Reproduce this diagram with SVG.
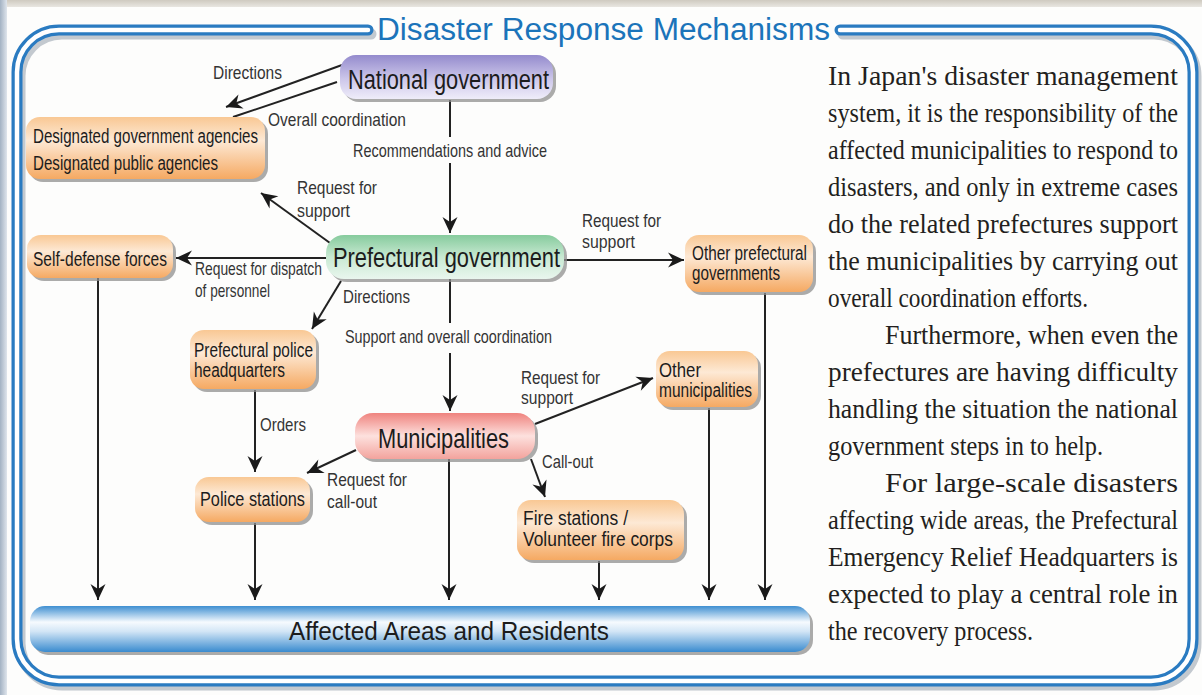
<svg xmlns="http://www.w3.org/2000/svg" width="1202" height="695" viewBox="0 0 1202 695">
  <defs>
    <style>
      .conn { stroke: #222; stroke-width: 2; fill: none; }
      .arrow { marker-end: url(#head); }
      .shadow { fill: #8f8f8f; opacity: 0.75; }
      .big { font-family: "Liberation Sans", Arial, sans-serif; font-size: 21.8px; fill: #1c1c1c; }
      .bar { font-family: "Liberation Sans", Arial, sans-serif; font-size: 24px; fill: #1c1c1c; }
      .mid { font-family: "Liberation Sans", Arial, sans-serif; font-size: 15.5px; fill: #1c1c1c; }
      .lbl { font-family: "Liberation Sans", Arial, sans-serif; font-size: 15px; fill: #343434; }
      .body { font-family: "Liberation Serif", "Times New Roman", serif; font-size: 23.5px; fill: #231f20; }
      .title { font-family: "Liberation Sans", Arial, sans-serif; font-size: 31px; fill: #1b74ba; }
    </style>
    <marker id="head" markerUnits="userSpaceOnUse" markerWidth="18" markerHeight="16" viewBox="-17 -8 18 16" refX="0" refY="0" orient="auto">
      <path d="M0,0 L-16,-7.5 L-11,0 L-16,7.5 Z" fill="#1a1a1a"/>
    </marker>
    <linearGradient id="gOrange" x1="0" y1="0" x2="0" y2="1">
      <stop offset="0" stop-color="#f9c894"/>
      <stop offset="0.38" stop-color="#fde9d5"/>
      <stop offset="1" stop-color="#f5a962"/>
    </linearGradient>
    <linearGradient id="gPurple" x1="0" y1="0" x2="0" y2="1">
      <stop offset="0" stop-color="#948bcd"/>
      <stop offset="0.55" stop-color="#cdc7ea"/>
      <stop offset="1" stop-color="#efedf9"/>
    </linearGradient>
    <linearGradient id="gGreen" x1="0" y1="0" x2="0" y2="1">
      <stop offset="0" stop-color="#86cb9d"/>
      <stop offset="0.5" stop-color="#c8e9d2"/>
      <stop offset="1" stop-color="#e9f6ee"/>
    </linearGradient>
    <linearGradient id="gRed" x1="0" y1="0" x2="0" y2="1">
      <stop offset="0" stop-color="#ef837e"/>
      <stop offset="0.5" stop-color="#fde1de"/>
      <stop offset="1" stop-color="#f3a39d"/>
    </linearGradient>
    <linearGradient id="gBlue" x1="0" y1="0" x2="0" y2="1">
      <stop offset="0" stop-color="#3f8fd1"/>
      <stop offset="0.35" stop-color="#f6fafe"/>
      <stop offset="0.55" stop-color="#d3e6f6"/>
      <stop offset="1" stop-color="#3a8bcf"/>
    </linearGradient>
    <linearGradient id="gEdgeTop" x1="0" y1="0" x2="0" y2="1">
      <stop offset="0" stop-color="#cfcac0"/>
      <stop offset="1" stop-color="#e8e6e1"/>
    </linearGradient>
    <linearGradient id="gEdgeLeft" x1="0" y1="0" x2="1" y2="0">
      <stop offset="0" stop-color="#a3b2c3"/>
      <stop offset="1" stop-color="#dfe5ec"/>
    </linearGradient>
  </defs>

  <!-- page -->
  <rect x="0" y="0" width="1202" height="695" fill="#fdfdfc"/>
  <rect x="0" y="0" width="1202" height="7" fill="url(#gEdgeTop)"/>
  <rect x="0" y="0" width="7" height="695" fill="url(#gEdgeLeft)"/>

  <!-- tube frame, open at the top for the heading -->
  <g id="frame">
    <path d="M368 30 H59 A42 42 0 0 0 17 72 V639 A42 42 0 0 0 59 681 H1151 A42 42 0 0 0 1193 639 V72 A42 42 0 0 0 1151 30 H840" transform="translate(3,4)" fill="none" stroke="#a9b2bc" stroke-width="11" stroke-linecap="round" opacity="0.7"/>
    <path d="M368 30 H59 A42 42 0 0 0 17 72 V639 A42 42 0 0 0 59 681 H1151 A42 42 0 0 0 1193 639 V72 A42 42 0 0 0 1151 30 H840" fill="none" stroke="#2a7bc1" stroke-width="11" stroke-linecap="round"/>
    <path d="M368 30 H59 A42 42 0 0 0 17 72 V639 A42 42 0 0 0 59 681 H1151 A42 42 0 0 0 1193 639 V72 A42 42 0 0 0 1151 30 H840" fill="none" stroke="#ffffff" stroke-width="4.5" stroke-linecap="round"/>
  </g>
  <text class="title" x="377" y="40" textLength="453" lengthAdjust="spacingAndGlyphs">Disaster Response Mechanisms</text>

  <!-- connectors -->
  <g id="connectors">
    <line class="conn arrow" x1="342" y1="65" x2="226" y2="107"/>
    <line class="conn" x1="337" y1="82" x2="233" y2="117"/>
    <line class="conn" x1="450" y1="100" x2="450" y2="137"/>
    <line class="conn arrow" x1="450" y1="163" x2="450" y2="233"/>
    <line class="conn arrow" x1="330" y1="243" x2="261" y2="193"/>
    <line class="conn arrow" x1="326" y1="258" x2="176" y2="258"/>
    <line class="conn arrow" x1="341" y1="281" x2="312" y2="329"/>
    <line class="conn arrow" x1="564" y1="260" x2="684" y2="260"/>
    <line class="conn" x1="450" y1="279" x2="450" y2="323"/>
    <line class="conn arrow" x1="450" y1="353" x2="450" y2="411"/>
    <line class="conn arrow" x1="535" y1="424" x2="653" y2="378"/>
    <line class="conn arrow" x1="356" y1="450" x2="307" y2="473"/>
    <line class="conn arrow" x1="531" y1="459" x2="545" y2="497"/>
    <line class="conn arrow" x1="255" y1="390" x2="255" y2="472"/>
    <line class="conn arrow" x1="98" y1="278" x2="98" y2="600"/>
    <line class="conn arrow" x1="255" y1="523" x2="255" y2="600"/>
    <line class="conn arrow" x1="449" y1="459" x2="449" y2="600"/>
    <line class="conn arrow" x1="599" y1="561" x2="599" y2="600"/>
    <line class="conn arrow" x1="709" y1="408" x2="709" y2="600"/>
    <line class="conn arrow" x1="765" y1="293" x2="765" y2="600"/>
  </g>

  <!-- connector labels (condensed face: narrow size, stretched vertically) -->
  <g id="labels">
    <text class="lbl" transform="matrix(1 0 0 1.2 213 79)" textLength="69" lengthAdjust="spacingAndGlyphs">Directions</text>
    <text class="lbl" transform="matrix(1 0 0 1.2 268 126)" textLength="138" lengthAdjust="spacingAndGlyphs">Overall coordination</text>
    <text class="lbl" transform="matrix(1 0 0 1.2 353 157)" textLength="194" lengthAdjust="spacingAndGlyphs">Recommendations and advice</text>
    <text class="lbl" transform="matrix(1 0 0 1.2 297 194)" textLength="80" lengthAdjust="spacingAndGlyphs">Request for</text>
    <text class="lbl" transform="matrix(1 0 0 1.2 297 217)" textLength="53" lengthAdjust="spacingAndGlyphs">support</text>
    <text class="lbl" transform="matrix(1 0 0 1.2 195 275)" textLength="127" lengthAdjust="spacingAndGlyphs">Request for dispatch</text>
    <text class="lbl" transform="matrix(1 0 0 1.2 195 297)" textLength="75" lengthAdjust="spacingAndGlyphs">of personnel</text>
    <text class="lbl" transform="matrix(1 0 0 1.2 343 303)" textLength="67" lengthAdjust="spacingAndGlyphs">Directions</text>
    <text class="lbl" transform="matrix(1 0 0 1.2 345 343)" textLength="207" lengthAdjust="spacingAndGlyphs">Support and overall coordination</text>
    <text class="lbl" transform="matrix(1 0 0 1.2 582 227)" textLength="79" lengthAdjust="spacingAndGlyphs">Request for</text>
    <text class="lbl" transform="matrix(1 0 0 1.2 582 248)" textLength="53" lengthAdjust="spacingAndGlyphs">support</text>
    <text class="lbl" transform="matrix(1 0 0 1.2 521 384)" textLength="79" lengthAdjust="spacingAndGlyphs">Request for</text>
    <text class="lbl" transform="matrix(1 0 0 1.2 521 404)" textLength="52" lengthAdjust="spacingAndGlyphs">support</text>
    <text class="lbl" transform="matrix(1 0 0 1.2 260 431)" textLength="46" lengthAdjust="spacingAndGlyphs">Orders</text>
    <text class="lbl" transform="matrix(1 0 0 1.2 327 486)" textLength="80" lengthAdjust="spacingAndGlyphs">Request for</text>
    <text class="lbl" transform="matrix(1 0 0 1.2 327 508)" textLength="50" lengthAdjust="spacingAndGlyphs">call-out</text>
    <text class="lbl" transform="matrix(1 0 0 1.2 542 468)" textLength="51" lengthAdjust="spacingAndGlyphs">Call-out</text>
  </g>

  <!-- nodes -->
  <g id="national-government">
    <rect class="shadow" x="343" y="58" width="213" height="44" rx="16"/>
    <rect x="340" y="55" width="213" height="44" rx="16" fill="url(#gPurple)"/>
    <text class="big" transform="matrix(1 0 0 1.3 348 89)" textLength="201" lengthAdjust="spacingAndGlyphs">National government</text>
  </g>

  <g id="designated-agencies">
    <rect class="shadow" x="29" y="120" width="239" height="62" rx="14"/>
    <rect x="26" y="117" width="239" height="62" rx="14" fill="url(#gOrange)"/>
    <text class="mid" transform="matrix(1 0 0 1.3 33 143)" textLength="225" lengthAdjust="spacingAndGlyphs">Designated government agencies</text>
    <text class="mid" transform="matrix(1 0 0 1.3 33 170)" textLength="185" lengthAdjust="spacingAndGlyphs">Designated public agencies</text>
  </g>

  <g id="self-defense-forces">
    <rect class="shadow" x="30" y="238" width="146" height="43" rx="14"/>
    <rect x="27" y="235" width="146" height="43" rx="14" fill="url(#gOrange)"/>
    <text class="mid" transform="matrix(1 0 0 1.3 33 266)" textLength="134" lengthAdjust="spacingAndGlyphs">Self-defense forces</text>
  </g>

  <g id="prefectural-government">
    <rect class="shadow" x="329" y="238" width="238" height="44" rx="18"/>
    <rect x="326" y="235" width="238" height="44" rx="18" fill="url(#gGreen)"/>
    <text class="big" transform="matrix(1 0 0 1.3 333 267)" textLength="227" lengthAdjust="spacingAndGlyphs">Prefectural government</text>
  </g>

  <g id="other-prefectural-governments">
    <rect class="shadow" x="688" y="238" width="128" height="57" rx="14"/>
    <rect x="685" y="235" width="128" height="57" rx="14" fill="url(#gOrange)"/>
    <text class="mid" transform="matrix(1 0 0 1.3 692 260)" textLength="115" lengthAdjust="spacingAndGlyphs">Other prefectural</text>
    <text class="mid" transform="matrix(1 0 0 1.3 692 280)" textLength="88" lengthAdjust="spacingAndGlyphs">governments</text>
  </g>

  <g id="prefectural-police-headquarters">
    <rect class="shadow" x="193" y="333" width="126" height="59" rx="14"/>
    <rect x="190" y="330" width="126" height="59" rx="14" fill="url(#gOrange)"/>
    <text class="mid" transform="matrix(1 0 0 1.3 194 357)" textLength="119" lengthAdjust="spacingAndGlyphs">Prefectural police</text>
    <text class="mid" transform="matrix(1 0 0 1.3 194 377)" textLength="91" lengthAdjust="spacingAndGlyphs">headquarters</text>
  </g>

  <g id="other-municipalities">
    <rect class="shadow" x="659" y="354" width="102" height="56" rx="14"/>
    <rect x="656" y="351" width="102" height="56" rx="14" fill="url(#gOrange)"/>
    <text class="mid" transform="matrix(1 0 0 1.3 659 377)" textLength="42" lengthAdjust="spacingAndGlyphs">Other</text>
    <text class="mid" transform="matrix(1 0 0 1.3 659 397)" textLength="93" lengthAdjust="spacingAndGlyphs">municipalities</text>
  </g>

  <g id="municipalities">
    <rect class="shadow" x="358" y="416" width="180" height="46" rx="18"/>
    <rect x="355" y="413" width="180" height="46" rx="18" fill="url(#gRed)"/>
    <text class="big" transform="matrix(1 0 0 1.3 378 448)" textLength="131" lengthAdjust="spacingAndGlyphs">Municipalities</text>
  </g>

  <g id="police-stations">
    <rect class="shadow" x="198" y="480" width="115" height="45" rx="14"/>
    <rect x="195" y="477" width="115" height="45" rx="14" fill="url(#gOrange)"/>
    <text class="mid" transform="matrix(1 0 0 1.3 200 506)" textLength="105" lengthAdjust="spacingAndGlyphs">Police stations</text>
  </g>

  <g id="fire-stations">
    <rect class="shadow" x="520" y="503" width="167" height="60" rx="14"/>
    <rect x="517" y="500" width="167" height="60" rx="14" fill="url(#gOrange)"/>
    <text class="mid" transform="matrix(1 0 0 1.3 523 525)" textLength="105" lengthAdjust="spacingAndGlyphs">Fire stations /</text>
    <text class="mid" transform="matrix(1 0 0 1.3 523 546)" textLength="150" lengthAdjust="spacingAndGlyphs">Volunteer fire corps</text>
  </g>

  <g id="affected-areas">
    <rect class="shadow" x="33" y="609" width="780" height="46" rx="15"/>
    <rect x="30" y="606" width="780" height="46" rx="15" fill="url(#gBlue)"/>
    <text class="bar" transform="matrix(1 0 0 1.05 289 640)" textLength="320" lengthAdjust="spacingAndGlyphs">Affected Areas and Residents</text>
  </g>

  <!-- explanatory paragraph -->
  <g id="description">
    <text class="body" transform="matrix(1 0 0 1.12 828 85)" textLength="350" lengthAdjust="spacingAndGlyphs">In Japan's disaster management</text>
    <text class="body" transform="matrix(1 0 0 1.12 828 122)" textLength="350" lengthAdjust="spacingAndGlyphs">system, it is the responsibility of the</text>
    <text class="body" transform="matrix(1 0 0 1.12 828 159)" textLength="350" lengthAdjust="spacingAndGlyphs">affected municipalities to respond to</text>
    <text class="body" transform="matrix(1 0 0 1.12 828 196)" textLength="350" lengthAdjust="spacingAndGlyphs">disasters, and only in extreme cases</text>
    <text class="body" transform="matrix(1 0 0 1.12 828 233)" textLength="350" lengthAdjust="spacingAndGlyphs">do the related prefectures support</text>
    <text class="body" transform="matrix(1 0 0 1.12 828 270)" textLength="350" lengthAdjust="spacingAndGlyphs">the municipalities by carrying out</text>
    <text class="body" transform="matrix(1 0 0 1.12 828 307)" textLength="260" lengthAdjust="spacingAndGlyphs">overall coordination efforts.</text>
    <text class="body" transform="matrix(1 0 0 1.12 885 344)" textLength="293" lengthAdjust="spacingAndGlyphs">Furthermore, when even the</text>
    <text class="body" transform="matrix(1 0 0 1.12 828 381)" textLength="350" lengthAdjust="spacingAndGlyphs">prefectures are having difficulty</text>
    <text class="body" transform="matrix(1 0 0 1.12 828 418)" textLength="350" lengthAdjust="spacingAndGlyphs">handling the situation the national</text>
    <text class="body" transform="matrix(1 0 0 1.12 828 455)" textLength="275" lengthAdjust="spacingAndGlyphs">government steps in to help.</text>
    <text class="body" transform="matrix(1 0 0 1.12 885 492)" textLength="293" lengthAdjust="spacingAndGlyphs">For large-scale disasters</text>
    <text class="body" transform="matrix(1 0 0 1.12 828 529)" textLength="350" lengthAdjust="spacingAndGlyphs">affecting wide areas, the Prefectural</text>
    <text class="body" transform="matrix(1 0 0 1.12 828 566)" textLength="350" lengthAdjust="spacingAndGlyphs">Emergency Relief Headquarters is</text>
    <text class="body" transform="matrix(1 0 0 1.12 828 603)" textLength="350" lengthAdjust="spacingAndGlyphs">expected to play a central role in</text>
    <text class="body" transform="matrix(1 0 0 1.12 828 640)" textLength="205" lengthAdjust="spacingAndGlyphs">the recovery process.</text>
  </g>
</svg>
